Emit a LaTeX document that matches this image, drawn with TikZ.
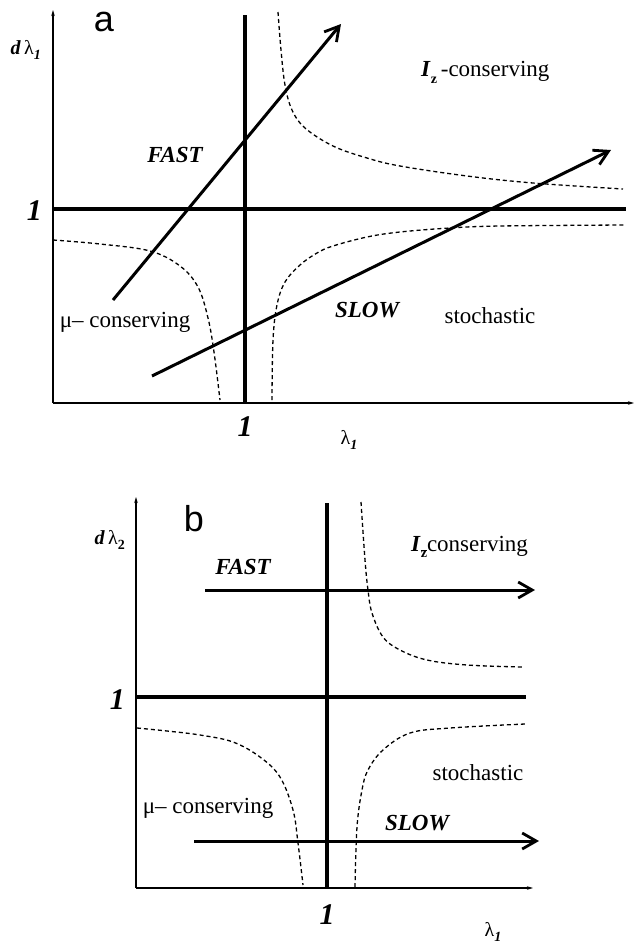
\documentclass[tikz,border=0pt]{standalone}
\usepackage{fontspec}
\setmainfont{Liberation Serif}
\newfontfamily\hel{Liberation Sans}
\usetikzlibrary{arrows.meta}
\tikzset{
  axisline/.style={line width=1.6pt,-{Stealth[length=6pt,width=3.5pt]}},
  thickline/.style={line width=4.5pt},
  traj/.style={line width=3pt,-{Straight Barb[length=14pt,width=16pt,line width=2.8pt]}},
  sep/.style={line width=1.3pt,dash pattern=on 4pt off 3pt},
  lbl/.style={font=\fontsize{23}{26}\selectfont,inner sep=0pt},
  blbl/.style={font=\fontsize{23}{26}\selectfont\bfseries\itshape,inner sep=0pt},
  one/.style={font=\fontsize{30}{33}\selectfont\bfseries\itshape,inner sep=0pt},
  panel/.style={font=\fontsize{36}{38}\selectfont\hel,inner sep=0pt},
  axl/.style={font=\fontsize{20}{22}\selectfont,inner sep=0pt}
}
\newcommand{\bone}{\textbf{\textit{1}}}
\begin{document}
\begin{tikzpicture}[x=1pt,y=-1pt]
\useasboundingbox (0,0) rectangle (636,945);
% ---------------- panel a ----------------
\coordinate (aO) at (53,403);
\coordinate (aYt) at (53,10);
\coordinate (aXr) at (634,403);
\draw[axisline] (aO) -- (aYt);
\draw[axisline] (aO) -- (aXr);
\coordinate (aV1) at (245,15);
\coordinate (aV2) at (245,403);
\coordinate (aH1) at (53,209);
\coordinate (aH2) at (626,209);
\draw[thickline] (aV1) -- (aV2);
\draw[thickline] (aH1) -- (aH2);
\draw[sep] plot[smooth,tension=0.6] coordinates {(278,12) (281,50) (285,85) (292,110) (305,128) (333,146) (367,158) (400,166) (467,176) (533,183) (623,189)};
\draw[sep] plot[smooth,tension=0.6] coordinates {(272,400) (273,340) (277,305) (285,282) (300,265) (317,253) (333,246) (367,237) (400,232) (450,228) (500,226) (625,225)};
\draw[sep] plot[smooth,tension=0.6] coordinates {(53,240) (100,244) (150,251) (180,266) (198,287) (208,318) (214,352) (220,400)};
\coordinate (aF1) at (113,300);
\coordinate (aF2) at (341,24);
\coordinate (aS1) at (152,376);
\coordinate (aS2) at (611,150);
\draw[traj] (aF1) -- (aF2);
\draw[traj] (aS1) -- (aS2);
\node[panel,anchor=base] (la) at (104,31) {a};
\node[axl,anchor=east] (ya) at (41,50) {\textbf{\textit{d}}\,λ\raisebox{-5pt}{\fontsize{14}{14}\selectfont\bone}};
\node[one,anchor=east] (a1y) at (42,211) {1};
\node[one] (a1x) at (245,427) {1};
\node[axl] (xa) at (349,440) {λ\raisebox{-5pt}{\fontsize{14}{14}\selectfont\bone}};
\node[blbl] (aFast) at (175,155) {FAST};
\node[blbl] (aSlow) at (367,310) {SLOW};
\node[lbl] (aMu) at (125,322) {μ– conserving};
\node[lbl] (aSto) at (490,316) {stochastic};
\node[lbl,anchor=west] (aIz) at (421,72) {\textbf{\textit{I}}\raisebox{-7pt}{\fontsize{14}{14}\selectfont\textbf{z}}\,-conserving};
% ---------------- panel b ----------------
\coordinate (bO) at (136,888);
\coordinate (bYt) at (136,497);
\coordinate (bXr) at (533,888);
\draw[axisline] (bO) -- (bYt);
\draw[axisline] (bO) -- (bXr);
\coordinate (bV1) at (327,503);
\coordinate (bV2) at (327,888);
\coordinate (bH1) at (136,697);
\coordinate (bH2) at (526,697);
\draw[thickline] (bV1) -- (bV2);
\draw[thickline] (bH1) -- (bH2);
\draw[sep] plot[smooth,tension=0.6] coordinates {(361,502) (365,560) (368,590) (372,613) (383,637) (400,650) (427,660) (467,665) (522,667)};
\draw[sep] plot[smooth,tension=0.6] coordinates {(355,887) (357,827) (362,790) (368,770) (383,750) (410,733) (450,728) (525,724)};
\draw[sep] plot[smooth,tension=0.6] coordinates {(137,728) (167,731) (200,735) (233,742) (260,757) (280,777) (293,810) (298,843) (303,885)};
\coordinate (bF1) at (205,590);
\coordinate (bF2) at (535,590);
\coordinate (bS1) at (194,841);
\coordinate (bS2) at (539,841);
\draw[traj] (bF1) -- (bF2);
\draw[traj] (bS1) -- (bS2);
\node[panel,anchor=base] (lb) at (194,531) {b};
\node[axl,anchor=east] (yb) at (125,540) {\textbf{\textit{d}}\,λ\raisebox{-5pt}{\fontsize{14}{14}\selectfont\textbf{2}}};
\node[one,anchor=east] (b1y) at (125,700) {1};
\node[one] (b1x) at (327,915) {1};
\node[axl] (xb) at (493,932) {λ\raisebox{-5pt}{\fontsize{14}{14}\selectfont\bone}};
\node[blbl] (bFast) at (243,567) {FAST};
\node[blbl] (bSlow) at (417,823) {SLOW};
\node[lbl] (bMu) at (208,808) {μ– conserving};
\node[lbl] (bSto) at (478,773) {stochastic};
\node[lbl,anchor=west] (bIz) at (411,547) {\textbf{\textit{I}}\raisebox{-6pt}{\fontsize{14}{14}\selectfont$\overline{\mbox{\textbf{z}}}$}conserving};
\end{tikzpicture}
\end{document}
